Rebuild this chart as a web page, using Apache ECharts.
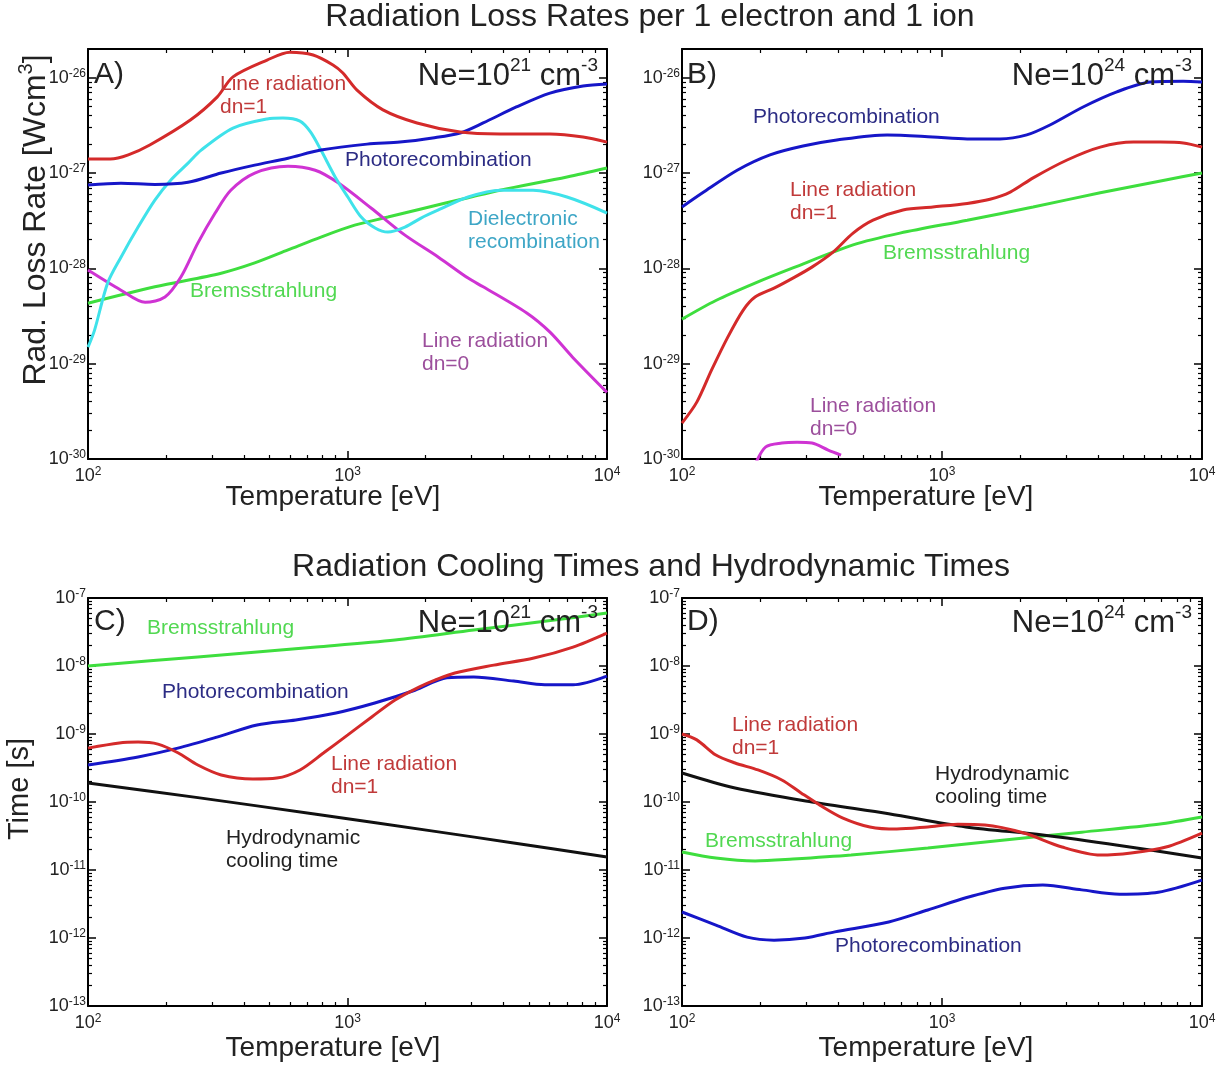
<!DOCTYPE html>
<html><head><meta charset="utf-8">
<script src="https://cdn.jsdelivr.net/npm/echarts@6/dist/echarts.min.js"></script>
<style>html,body{margin:0;padding:0;background:#fff}#c{width:1227px;height:1069px}</style>
</head><body><div id="c"></div>
<script>
// ---------- tick labels (powers of ten) ----------
const X_TICKS = [100, 1000, 10000];
const Y_TICKS_AB = [1e-30, 1e-29, 1e-28, 1e-27, 1e-26];
const Y_TICKS_CD = [1e-13, 1e-12, 1e-11, 1e-10, 1e-9, 1e-8, 1e-7];
const Y_RANGE_AB = [1e-30, 2e-26];
const Y_RANGE_CD = [1e-13, 1e-7];

// ---------- Panel A : Ne = 1e21, loss rates [W cm^3] vs T [eV] ----------
const A_lineDn1 = [[100,1.40e-27],[122,1.40e-27],[143,1.55e-27],[173,1.97e-27],[248,3.6e-27],[315,6.3e-27],[362,1.02e-26],[490,1.53e-26],[600,1.85e-26],[737,1.73e-26],[879,1.36e-26],[960,1.12e-26],[1088,7.4e-27],[1370,4.6e-27],[1853,3.35e-27],[2716,2.69e-27],[3872,2.57e-27],[6030,2.57e-27],[8085,2.39e-27],[10000,2.11e-27]];
const A_photo = [[100,7.5e-28],[134,7.8e-28],[181,7.6e-28],[243,8.0e-28],[326,1.0e-27],[439,1.21e-27],[590,1.43e-27],[790,1.74e-27],[1190,2.01e-27],[1592,2.11e-27],[2128,2.33e-27],[2716,2.63e-27],[3333,3.35e-27],[4474,4.93e-27],[6030,6.9e-27],[8085,8.2e-27],[10000,8.6e-27]];
const A_dielec = [[100,1.49e-29],[106,2.25e-29],[119,7.0e-29],[134,1.31e-28],[156,2.71e-28],[181,5.2e-28],[209,8.5e-28],[243,1.27e-27],[273,1.74e-27],[362,2.96e-27],[490,3.69e-27],[564,3.77e-27],[656,3.5e-27],[720,2.7e-27],[790,1.74e-27],[896,9.1e-28],[1003,5.6e-28],[1129,3.45e-28],[1278,2.65e-28],[1431,2.40e-28],[1665,2.71e-28],[1920,3.37e-28],[2241,4.1e-28],[2916,5.6e-28],[3872,6.6e-28],[5190,6.6e-28],[7010,5.6e-28],[10000,3.8e-28]];
const A_lineDn0 = [[100,9.6e-29],[134,5.9e-29],[166,4.4e-29],[198,5.0e-29],[228,8.1e-29],[265,1.84e-28],[309,3.8e-28],[355,6.6e-28],[439,1.0e-27],[590,1.18e-27],[751,1.07e-27],[920,7.9e-28],[1232,4.3e-28],[1665,2.23e-28],[2241,1.31e-28],[2916,7.9e-29],[3333,6.4e-29],[4906,3.4e-29],[6030,2.14e-29],[7367,1.17e-29],[10000,5.0e-30]];
const A_brems = [[100,4.3e-29],[181,6.4e-29],[326,8.9e-29],[439,1.14e-28],[590,1.56e-28],[790,2.13e-28],[1066,2.84e-28],[1431,3.45e-28],[1920,4.2e-28],[2916,5.5e-28],[3872,6.6e-28],[7010,9.1e-28],[10000,1.13e-27]];

// ---------- Panel B : Ne = 1e24, loss rates ----------
const B_photo = [[100,4.4e-28],[120,6.2e-28],[163,1.07e-27],[218,1.55e-27],[292,1.92e-27],[394,2.22e-27],[615,2.51e-27],[922,2.39e-27],[1250,2.28e-27],[1671,2.28e-27],[2118,2.51e-27],[2601,3.19e-27],[3489,4.93e-27],[4703,7.1e-27],[6317,9.0e-27],[8475,9.2e-27],[10000,9.0e-27]];
const B_lineDn1 = [[100,2.38e-30],[114,3.95e-30],[130,8.6e-30],[150,1.9e-29],[172,3.65e-29],[191,5.0e-29],[226,6.2e-29],[267,7.9e-29],[316,1.03e-28],[381,1.48e-28],[455,2.34e-28],[543,3.2e-28],[708,4.1e-28],[922,4.4e-28],[1250,4.8e-28],[1530,5.3e-28],[1830,6.3e-28],[2241,8.9e-28],[3028,1.37e-27],[4061,1.87e-27],[5446,2.11e-27],[6918,2.11e-27],[8475,2.07e-27],[10000,1.87e-27]];
const B_brems = [[100,2.93e-29],[135,4.6e-29],[191,7.0e-29],[267,1.01e-28],[455,1.76e-28],[689,2.34e-28],[1250,3.2e-28],[2241,4.4e-28],[4061,6.2e-28],[7330,8.5e-28],[10000,1.0e-27]];
const B_lineDn0 = [[192,9e-31],[210,1.34e-30],[242,1.47e-30],[277,1.5e-30],[316,1.47e-30],[365,1.24e-30],[409,1.10e-30]];

// ---------- Panel C : Ne = 1e21, times [s] ----------
const C_brems = [[100,1.0e-8],[265,1.36e-8],[757,1.9e-8],[1525,2.41e-8],[3066,3.38e-8],[6162,4.7e-8],[10000,6.0e-8]];
const C_photo = [[100,3.5e-10],[156,4.6e-10],[222,6.2e-10],[314,9.0e-10],[448,1.36e-9],[632,1.61e-9],[903,2.04e-9],[1274,2.86e-9],[1819,4.4e-9],[2415,6.7e-9],[3066,6.9e-9],[4368,6.0e-9],[5759,5.3e-9],[7400,5.3e-9],[10000,7.1e-9]];
const C_lineDn1 = [[100,6.2e-10],[132,7.4e-10],[156,7.6e-10],[186,7.1e-10],[222,5.3e-10],[265,3.5e-10],[326,2.5e-10],[432,2.18e-10],[534,2.25e-10],[656,2.96e-10],[810,5.3e-10],[1003,9.7e-10],[1240,1.78e-9],[1525,3.16e-9],[1886,4.9e-9],[2172,6.2e-9],[2592,7.9e-9],[3661,1.03e-8],[5228,1.31e-8],[7400,1.9e-8],[10000,3.05e-8]];
const C_hydro = [[100,1.9e-10],[265,1.16e-10],[757,6.6e-11],[2172,3.7e-11],[4368,2.5e-11],[10000,1.55e-11]];

// ---------- Panel D : Ne = 1e24, times ----------
const D_lineDn1 = [[100,1.0e-9],[114,8.2e-10],[135,4.9e-10],[160,3.75e-10],[196,2.96e-10],[242,2.11e-10],[287,1.36e-10],[339,9.0e-11],[416,5.8e-11],[528,4.3e-11],[670,4.0e-11],[882,4.3e-11],[1150,4.7e-11],[1462,4.6e-11],[2066,3.5e-11],[2895,2.18e-11],[4062,1.66e-11],[5338,1.78e-11],[7272,2.18e-11],[10000,3.5e-11]];
const D_hydro = [[100,2.67e-10],[160,1.61e-10],[316,1.0e-10],[624,6.7e-11],[1235,4.3e-11],[2442,3.27e-11],[4817,2.3e-11],[10000,1.5e-11]];
const D_brems = [[100,1.84e-11],[135,1.5e-11],[191,1.36e-11],[267,1.45e-11],[447,1.66e-11],[882,2.11e-11],[1742,2.76e-11],[3446,3.6e-11],[6788,4.7e-11],[10000,6.0e-11]];
const D_photo = [[100,2.41e-12],[135,1.55e-12],[178,1.03e-12],[226,9.3e-13],[297,1.0e-12],[387,1.23e-12],[624,1.72e-12],[882,2.58e-12],[1235,3.9e-12],[1742,5.4e-12],[2442,6.0e-12],[3446,5.1e-12],[4817,4.4e-12],[6788,4.7e-12],[10000,7.1e-12]];

// ---------- styling ----------
const FF = '"Liberation Sans", Arial, Helvetica, sans-serif';
const COL = {red:'#d42a2a', blue:'#1616c8', cyan:'#3fe2ea', mag:'#cf33d3', green:'#3ede3e', black:'#111111'};
const LAB = {red:'#c03a3a', blue:'#2c2c84', cyan:'#3ea6c6', mag:'#9c4f9c', green:'#52d852', black:'#222222'};

// decade ticks expressed as exponents (ECharts' log scale rounds values < 1e-10 to zero,
// so the tick / label axes are linear axes over log10 of the same range)
const exps = arr => arr.map(v => Math.round(Math.log10(v)));
function minorExp(ticks){
  const e = exps(ticks), out=[];
  for(let i=0;i<e.length-1;i++){ for(let k=2;k<=9;k++) out.push(e[i]+Math.log10(k)); }
  return out;
}
const powFmt = v => '10{s|' + Math.round(v) + '}';
const labelRich = {s:{fontSize:12, verticalAlign:'top', lineHeight:12, color:'#222', fontFamily:FF}};

const grids = [
  {left:88, top:49, width:519, height:410},
  {left:682, top:49, width:520, height:410},
  {left:88, top:598, width:519, height:408},
  {left:682, top:598, width:520, height:408}
];

const xAxis=[], yAxis=[];
grids.forEach((g,gi)=>{
  const yR = gi<2 ? Y_RANGE_AB : Y_RANGE_CD;
  const yT = gi<2 ? Y_TICKS_AB : Y_TICKS_CD;
  const line = {show:true, onZero:false, lineStyle:{color:'#000', width:2}};
  const noLine = {show:false, onZero:false};
  const tickMaj = vals => ({inside:true, length:8, customValues:vals, lineStyle:{color:'#000', width:1.5}});
  const tickMin = vals => ({inside:true, length:4, customValues:vals, lineStyle:{color:'#000', width:1.2}});
  // x: log axes (data axis = bottom major)
  const xE = exps(X_TICKS), xM = minorExp(X_TICKS);
  const xd = {type:'value', gridIndex:gi, min:xE[0], max:xE[xE.length-1], splitLine:{show:false}};
  xAxis.push(
    {type:'log', logBase:10, gridIndex:gi, min:X_TICKS[0], max:X_TICKS[X_TICKS.length-1], position:'bottom',
      axisLine:noLine, axisTick:{show:false}, axisLabel:{show:false}, splitLine:{show:false}},
    Object.assign({}, xd, {position:'bottom', axisLine:line, axisTick:tickMaj(xE),
      axisLabel:{customValues:xE, formatter:powFmt, rich:labelRich, margin:7, fontSize:18, lineHeight:20, color:'#222', fontFamily:FF}}),
    Object.assign({}, xd, {position:'bottom', axisLine:noLine, axisTick:tickMin(xM), axisLabel:{show:false}}),
    Object.assign({}, xd, {position:'top', axisLine:line, axisTick:tickMaj(xE), axisLabel:{show:false}}),
    Object.assign({}, xd, {position:'top', axisLine:noLine, axisTick:tickMin(xM), axisLabel:{show:false}})
  );
  const yE = exps(yT), yM = minorExp(yT);
  const yd = {type:'value', gridIndex:gi, min:Math.log10(yR[0]), max:Math.log10(yR[1]), splitLine:{show:false}};
  yAxis.push(
    {type:'log', logBase:10, gridIndex:gi, min:yR[0], max:yR[1], position:'left',
      axisLine:noLine, axisTick:{show:false}, axisLabel:{show:false}, splitLine:{show:false}},
    Object.assign({}, yd, {position:'left', axisLine:line, axisTick:tickMaj(yE),
      axisLabel:{customValues:yE, formatter:powFmt, rich:labelRich, margin:2, fontSize:18, lineHeight:20, color:'#222', fontFamily:FF}}),
    Object.assign({}, yd, {position:'left', axisLine:noLine, axisTick:tickMin(yM), axisLabel:{show:false}}),
    Object.assign({}, yd, {position:'right', axisLine:line, axisTick:tickMaj(yE), axisLabel:{show:false}}),
    Object.assign({}, yd, {position:'right', axisLine:noLine, axisTick:tickMin(yM), axisLabel:{show:false}})
  );
});

function ser(gi, data, color, name){
  return {type:'line', name, xAxisIndex:gi*5, yAxisIndex:gi*5, data, showSymbol:false, symbol:'none',
    smooth:0.3, clip:true, lineStyle:{color, width:3}, itemStyle:{color}, silent:true};
}
const series = [
  ser(0, A_brems, COL.green, 'Bremsstrahlung'),
  ser(0, A_lineDn0, COL.mag, 'Line radiation dn=0'),
  ser(0, A_dielec, COL.cyan, 'Dielectronic recombination'),
  ser(0, A_photo, COL.blue, 'Photorecombination'),
  ser(0, A_lineDn1, COL.red, 'Line radiation dn=1'),
  ser(1, B_brems, COL.green, 'Bremsstrahlung'),
  ser(1, B_lineDn0, COL.mag, 'Line radiation dn=0'),
  ser(1, B_lineDn1, COL.red, 'Line radiation dn=1'),
  ser(1, B_photo, COL.blue, 'Photorecombination'),
  ser(2, C_hydro, COL.black, 'Hydrodynamic cooling time'),
  ser(2, C_brems, COL.green, 'Bremsstrahlung'),
  ser(2, C_photo, COL.blue, 'Photorecombination'),
  ser(2, C_lineDn1, COL.red, 'Line radiation dn=1'),
  ser(3, D_photo, COL.blue, 'Photorecombination'),
  ser(3, D_brems, COL.green, 'Bremsstrahlung'),
  ser(3, D_hydro, COL.black, 'Hydrodynamic cooling time'),
  ser(3, D_lineDn1, COL.red, 'Line radiation dn=1')
];

function txt(x, y, text, size, color, align, extra){
  return Object.assign({type:'text', x, y, z:100, silent:true,
    style:{text, fill:color, font: size+'px '+FF, fontSize:size, fontFamily:FF,
      textAlign:align||'left', align:align||'left', textVerticalAlign:'middle', verticalAlign:'middle',
      lineHeight: Math.round(size*1.25),
      rich:{s:{fontSize:Math.round(size*0.62), fontFamily:FF, fill:color, verticalAlign:'top', lineHeight:Math.round(size*0.62)}}}}, extra||{});
}

const graphic = [
  txt(650, 17, 'Radiation Loss Rates per 1 electron and 1 ion', 32, '#222', 'center'),
  txt(651, 567, 'Radiation Cooling Times and Hydrodynamic Times', 32, '#222', 'center'),
  txt(36, 220, 'Rad. Loss Rate [Wcm{s|3}]', 32, '#222', 'center', {rotation:Math.PI/2}),
  txt(20, 789, 'Time [s]', 29, '#222', 'center', {rotation:Math.PI/2}),
  txt(333, 497, 'Temperature [eV]', 28, '#222', 'center'),
  txt(926, 497, 'Temperature [eV]', 28, '#222', 'center'),
  txt(333, 1048, 'Temperature [eV]', 28, '#222', 'center'),
  txt(926, 1048, 'Temperature [eV]', 28, '#222', 'center'),
  txt(94, 75, 'A)', 30, '#222'), txt(687, 75, 'B)', 30, '#222'),
  txt(94, 622, 'C)', 30, '#222'), txt(687, 622, 'D)', 30, '#222'),
  txt(598, 76, 'Ne=10{s|21} cm{s|-3}', 31, '#222', 'right'),
  txt(1192, 76, 'Ne=10{s|24} cm{s|-3}', 31, '#222', 'right'),
  txt(598, 623, 'Ne=10{s|21} cm{s|-3}', 31, '#222', 'right'),
  txt(1192, 623, 'Ne=10{s|24} cm{s|-3}', 31, '#222', 'right'),
  // Panel A labels
  txt(220, 84, 'Line radiation', 21, LAB.red), txt(220, 107, 'dn=1', 21, LAB.red),
  txt(345, 160, 'Photorecombination', 21, LAB.blue),
  txt(468, 219, 'Dielectronic', 21, LAB.cyan), txt(468, 242, 'recombination', 21, LAB.cyan),
  txt(190, 291, 'Bremsstrahlung', 21, LAB.green),
  txt(422, 341, 'Line radiation', 21, LAB.mag), txt(422, 364, 'dn=0', 21, LAB.mag),
  // Panel B labels
  txt(753, 117, 'Photorecombination', 21, LAB.blue),
  txt(790, 190, 'Line radiation', 21, LAB.red), txt(790, 213, 'dn=1', 21, LAB.red),
  txt(883, 253, 'Bremsstrahlung', 21, LAB.green),
  txt(810, 406, 'Line radiation', 21, LAB.mag), txt(810, 429, 'dn=0', 21, LAB.mag),
  // Panel C labels
  txt(147, 628, 'Bremsstrahlung', 21, LAB.green),
  txt(162, 692, 'Photorecombination', 21, LAB.blue),
  txt(331, 764, 'Line radiation', 21, LAB.red), txt(331, 787, 'dn=1', 21, LAB.red),
  txt(226, 838, 'Hydrodynamic', 21, LAB.black), txt(226, 861, 'cooling time', 21, LAB.black),
  // Panel D labels
  txt(732, 725, 'Line radiation', 21, LAB.red), txt(732, 748, 'dn=1', 21, LAB.red),
  txt(935, 774, 'Hydrodynamic', 21, LAB.black), txt(935, 797, 'cooling time', 21, LAB.black),
  txt(705, 841, 'Bremsstrahlung', 21, LAB.green),
  txt(835, 946, 'Photorecombination', 21, LAB.blue)
];

const chart = echarts.init(document.getElementById('c'), null, {renderer:'canvas'});
chart.setOption({backgroundColor:'#fff', animation:false, grid:grids, xAxis, yAxis, series, graphic});
</script></body></html>
